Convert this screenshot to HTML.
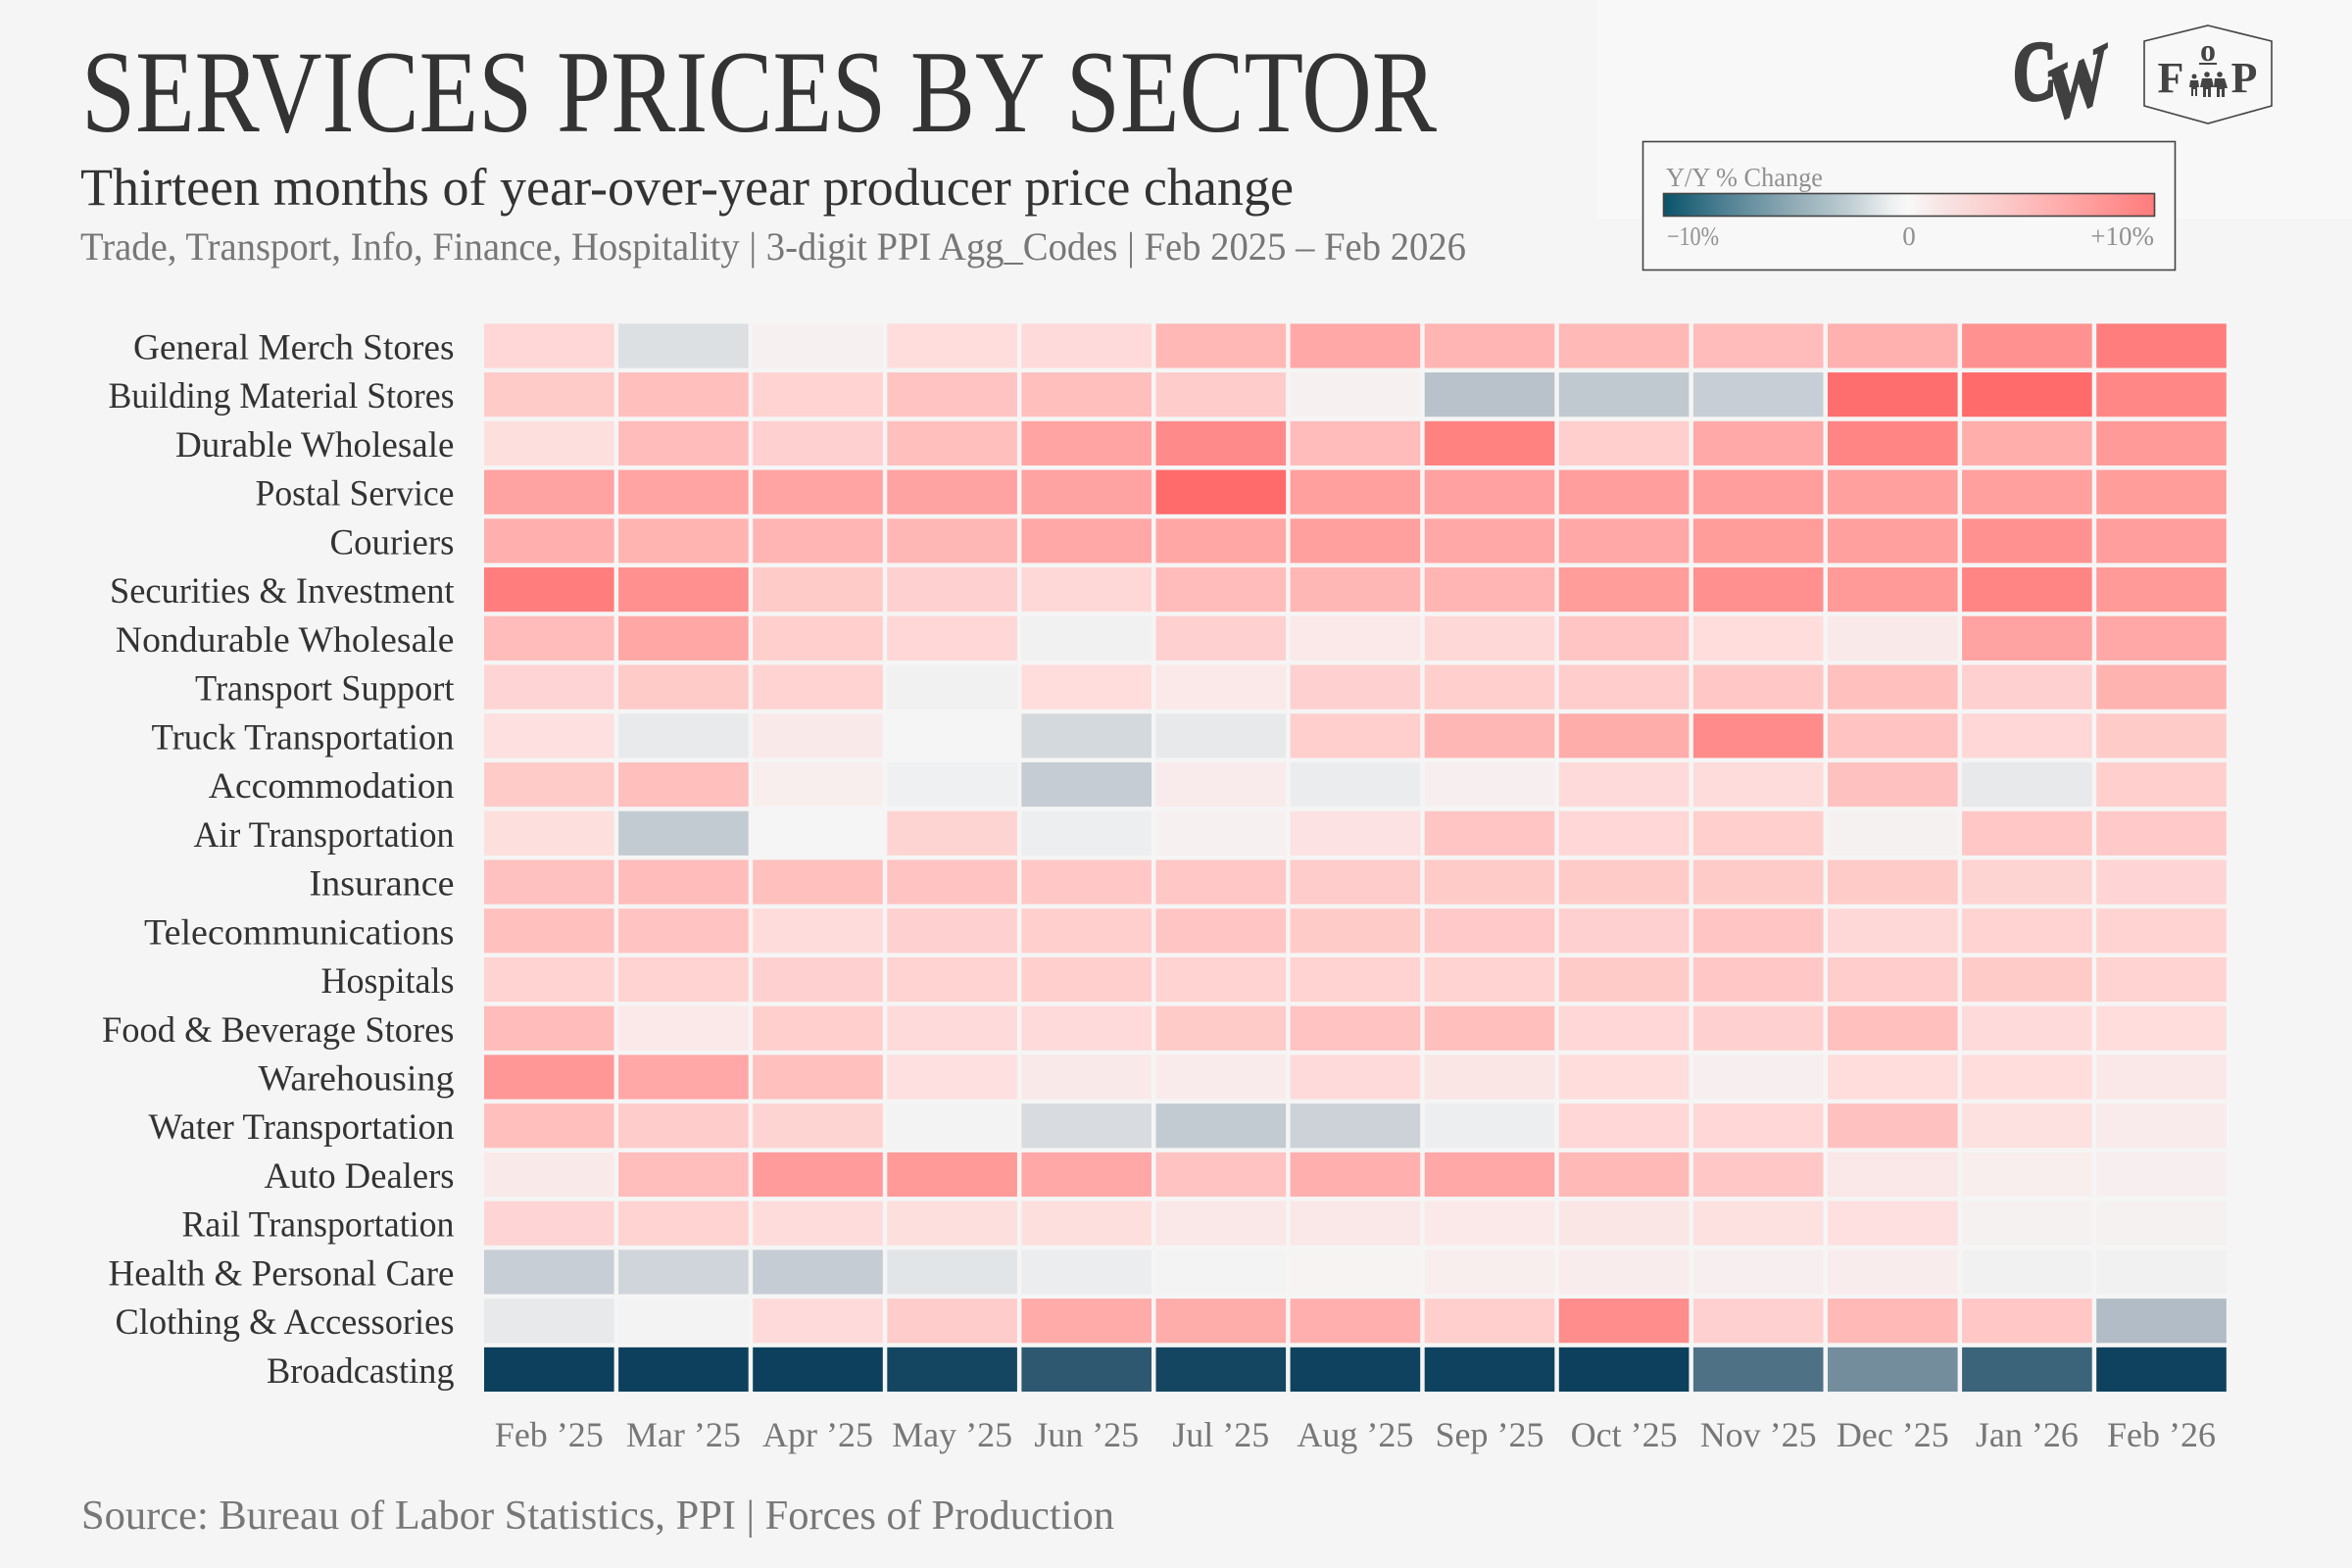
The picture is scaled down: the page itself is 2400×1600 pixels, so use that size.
<!DOCTYPE html>
<html lang="en">
<head>
<meta charset="utf-8">
<title>Services Prices by Sector</title>
<style>
  html, body { margin: 0; padding: 0; background: #f5f5f5; }
  svg { display: block; }
  text { font-family: "Liberation Serif", serif; }
</style>
</head>
<body>
<svg id="chart" xmlns="http://www.w3.org/2000/svg" width="2400" height="1600" viewBox="0 0 2400 1600">
  <defs>
    <linearGradient id="legend-gradient" x1="0" x2="1" y1="0" y2="0">
      <stop offset="0" stop-color="#0a5369"/>
      <stop offset="0.12" stop-color="#4d7f92"/>
      <stop offset="0.25" stop-color="#8ba7b2"/>
      <stop offset="0.38" stop-color="#c0ced3"/>
      <stop offset="0.46" stop-color="#eceff0"/>
      <stop offset="0.5" stop-color="#f8f8f8"/>
      <stop offset="0.56" stop-color="#f8e6e6"/>
      <stop offset="0.68" stop-color="#fbcccc"/>
      <stop offset="0.82" stop-color="#ffa9a9"/>
      <stop offset="1" stop-color="#ff7b7b"/>
    </linearGradient>
  </defs>

  <rect x="0" y="0" width="2400" height="1600" fill="#f5f5f5"/>
  <rect x="1630" y="0" width="770" height="223" fill="#f8f8f8"/>

  <text x="83" y="134" font-size="120" fill="#333333" textLength="1383" lengthAdjust="spacingAndGlyphs">SERVICES PRICES BY SECTOR</text>
  <text x="82" y="209" font-size="54" fill="#333333" textLength="1238" lengthAdjust="spacingAndGlyphs">Thirteen months of year-over-year producer price change</text>
  <text x="82" y="265" font-size="40" fill="#777777" textLength="1414" lengthAdjust="spacingAndGlyphs">Trade, Transport, Info, Finance, Hospitality | 3-digit PPI Agg_Codes | Feb 2025 – Feb 2026</text>

  <g fill="#404040" stroke="#404040" stroke-width="3">
    <text font-size="86" font-weight="bold" transform="translate(2054,104) skewY(-6) scale(0.72,1)">C</text>
    <text font-size="82" font-weight="bold" transform="translate(2090,128) skewY(-26) scale(0.74,1)">W</text>
  </g>

  <g>
    <polygon points="2253,26 2318,42 2318,108 2253,126 2188,108 2188,42" fill="none" stroke="#444444" stroke-width="1.6"/>
    <text x="2215" y="94" font-size="44" font-weight="bold" fill="#444444" text-anchor="middle">F</text>
    <text x="2253" y="62" font-size="32" font-weight="bold" fill="#444444" text-anchor="middle">o</text>
    <rect x="2244" y="64" width="18" height="2" fill="#444444"/>
    <text x="2290" y="94" font-size="44" font-weight="bold" fill="#444444" text-anchor="middle">P</text>
    <g fill="#444444">
      <circle cx="2239" cy="78" r="2.5"/><path d="M2235 82h8l1 7-2 0v9h-2v-7h-2v7h-2v-9l-2 0z"/>
      <circle cx="2252" cy="76" r="2.8"/><path d="M2247 80h10l2 9-3 0v10h-3v-8h-2v8h-3v-10l-3 0z"/>
      <circle cx="2265" cy="76" r="2.8"/><path d="M2260 80h10l3 10-3 0v9h-3v-8h-2v8h-3v-10l-3 0z"/>
    </g>
  </g>

  <g>
    <rect x="1676.5" y="144.5" width="543" height="131" fill="#f8f8f8" stroke="#444444" stroke-width="1.6"/>
    <text x="1700" y="190" font-size="27" fill="#909090" textLength="160" lengthAdjust="spacingAndGlyphs">Y/Y % Change</text>
    <rect x="1697.5" y="197.5" width="501" height="23" fill="url(#legend-gradient)" stroke="#444444" stroke-width="1.6"/>
    <text x="1701" y="250" font-size="27" fill="#909090" textLength="53" lengthAdjust="spacingAndGlyphs">−10%</text>
    <text x="1948" y="250" font-size="27" fill="#909090" text-anchor="middle">0</text>
    <text x="2198" y="250" font-size="27" fill="#909090" text-anchor="end">+10%</text>
  </g>

  <g id="cells"></g>
  <g id="row-labels"></g>
  <g id="col-labels"></g>

  <text x="83" y="1560" font-size="42" fill="#777777" textLength="1054" lengthAdjust="spacingAndGlyphs">Source: Bureau of Labor Statistics, PPI | Forces of Production</text>
</svg>

<script>
const sectors = ["General Merch Stores","Building Material Stores","Durable Wholesale","Postal Service","Couriers","Securities & Investment","Nondurable Wholesale","Transport Support","Truck Transportation","Accommodation","Air Transportation","Insurance","Telecommunications","Hospitals","Food & Beverage Stores","Warehousing","Water Transportation","Auto Dealers","Rail Transportation","Health & Personal Care","Clothing & Accessories","Broadcasting"];
const months = ["Feb ’25","Mar ’25","Apr ’25","May ’25","Jun ’25","Jul ’25","Aug ’25","Sep ’25","Oct ’25","Nov ’25","Dec ’25","Jan ’26","Feb ’26"];
const yoyChange = [
  [2.4,-1.2,0.4,1.9,2.1,4.7,5.8,4.9,4.6,4.4,5.2,7.3,8.8],
  [3.3,4.2,2.7,3.8,4.2,3.2,0.4,-2.9,-2.5,-2.2,9.8,10,8],
  [1.8,4.4,2.9,4.2,6.1,7.9,4.4,8.5,3,5.7,8.2,5.4,6.8],
  [6.2,6.1,6.1,6.2,6.2,10,6.4,6.3,6.5,6.5,6.4,6.4,6.6],
  [5.3,5,4.9,4.8,5.8,5.9,6.4,5.8,5.8,6.6,6.4,7.3,6.5],
  [8.8,7.5,3.3,2.8,2.3,4.4,4.8,4.9,6.6,7.5,6.8,8.2,6.8],
  [4.4,5.9,3,2.4,-0.2,2.9,1,2.3,3.7,1.9,0.9,6.2,5.8],
  [2.5,3.3,2.7,-0.2,1.9,1,2.8,3,3.1,3.6,4.1,2.9,5.1],
  [1.7,-0.6,0.9,0,-1.6,-0.7,3,4.8,5.5,7.8,3.9,2.4,3.3],
  [3.3,4.2,0.6,-0.3,-2.3,0.8,-0.5,0.5,2.1,2,4,-0.7,3],
  [1.8,-2.4,0,2.6,-0.4,0.4,1.5,3.7,2.4,3,0.3,3.5,3.4],
  [4,4.4,4.1,3.9,3.5,3.6,3.2,3.3,3.3,3.3,3.3,2.6,2.5],
  [4.1,3.8,2,2.9,3,3.7,3.3,3.4,2.9,3.7,2.3,2.7,2.7],
  [2.7,2.7,2.8,2.7,3,2.7,2.7,2.7,3.3,3.5,3.1,3.3,2.7],
  [4.4,1,3,2.1,2.1,3.3,3.9,4.2,2.4,2.8,4.1,2.1,1.9],
  [7,5.8,4.1,1.7,0.9,0.8,2.1,1.2,1.9,0.5,1.9,1.9,1.1],
  [4.2,3.2,2.6,-0.1,-1.4,-2.4,-2,-0.4,2.4,2.4,4,1.6,0.8],
  [0.9,4.3,6.7,6.8,5.8,3.9,5.3,5.8,4.6,3.5,1.1,0.6,0.5],
  [2.5,2.7,2,1.8,1.8,1.1,1.1,1,1.2,1.6,1.7,0.3,0.3],
  [-2.2,-1.8,-2.3,-0.9,-0.45,-0.1,0.2,0.6,0.7,0.5,0.7,-0.2,-0.2],
  [-0.7,-0.1,2.1,3.2,5.6,5.5,5.3,3,7.7,2.8,4.6,3.5,-3.2],
  [-10,-10,-10,-9.7,-8.7,-9.7,-9.9,-9.9,-10,-7.3,-5.8,-8.1,-9.9]
];

const SVG_NS = "http://www.w3.org/2000/svg";
const GRID_LEFT = 494, COL_PITCH = 137.1, CELL_W = 132.6;
const GRID_TOP = 330.3, ROW_PITCH = 49.74, CELL_H = 45.2;

function xScale(col) { return GRID_LEFT + col * COL_PITCH; }
function yScale(row) { return GRID_TOP + row * ROW_PITCH; }

function mix(a, b, t) {
  return [0, 1, 2].map(function (i) { return a[i] + (b[i] - a[i]) * t; });
}
function colorScale(value) {
  const v = Math.max(-10, Math.min(10, value));
  const mid = [245, 245, 245];
  let rgb;
  if (v < -3) {
    rgb = mix([183, 192, 201], [13, 64, 92], (-v - 3) / 7);
  } else if (v < 0) {
    rgb = mix(mid, [183, 192, 201], -v / 3);
  } else if (v < 2) {
    rgb = mix(mid, [254, 220, 219], v / 2);
  } else if (v < 5) {
    rgb = mix([254, 220, 219], [255, 180, 178], (v - 2) / 3);
  } else {
    rgb = mix([255, 180, 178], [255, 107, 107], (v - 5) / 5);
  }
  return "rgb(" + rgb.map(Math.round).join(",") + ")";
}

function fitLabel(node) {
  const fit = {
    "General Merch Stores": 327.5, "Building Material Stores": 353, "Durable Wholesale": 284.5,
    "Postal Service": 203, "Couriers": 127, "Securities & Investment": 351.5,
    "Nondurable Wholesale": 345.6, "Transport Support": 264.5, "Truck Transportation": 309,
    "Accommodation": 250.7, "Air Transportation": 266, "Insurance": 148,
    "Telecommunications": 316.5, "Hospitals": 136, "Food & Beverage Stores": 359.5,
    "Warehousing": 200, "Water Transportation": 312, "Auto Dealers": 194,
    "Rail Transportation": 278, "Health & Personal Care": 353, "Clothing & Accessories": 346,
    "Broadcasting": 191.5
  };
  const width = fit[node.textContent];
  if (width) {
    node.setAttribute("textLength", width);
    node.setAttribute("lengthAdjust", "spacingAndGlyphs");
  }
}

const cellLayer = document.getElementById("cells");
const rowLayer = document.getElementById("row-labels");
const colLayer = document.getElementById("col-labels");

sectors.forEach(function (sector, row) {
  const label = document.createElementNS(SVG_NS, "text");
  
  
  label.setAttribute("x", 463.5);
  label.setAttribute("y", yScale(row) + CELL_H / 2 + 13.5);
  label.setAttribute("font-size", 37);
  label.setAttribute("fill", "#333333");
  label.setAttribute("text-anchor", "end");
  label.textContent = sector;
  fitLabel(label);
  rowLayer.appendChild(label);

  months.forEach(function (month, col) {
    const cell = document.createElementNS(SVG_NS, "rect");
    
    
    cell.setAttribute("x", xScale(col));
    cell.setAttribute("y", yScale(row));
    cell.setAttribute("width", CELL_W);
    cell.setAttribute("height", CELL_H);
    cell.setAttribute("fill", colorScale(yoyChange[row][col]));
    cellLayer.appendChild(cell);
  });
});

months.forEach(function (month, col) {
  const label = document.createElementNS(SVG_NS, "text");
  
  
  label.setAttribute("x", xScale(col) + CELL_W / 2);
  label.setAttribute("y", 1476);
  label.setAttribute("font-size", 36);
  label.setAttribute("fill", "#777777");
  label.setAttribute("text-anchor", "middle");
  label.textContent = month;
  colLayer.appendChild(label);
});
</script>
</body>
</html>
